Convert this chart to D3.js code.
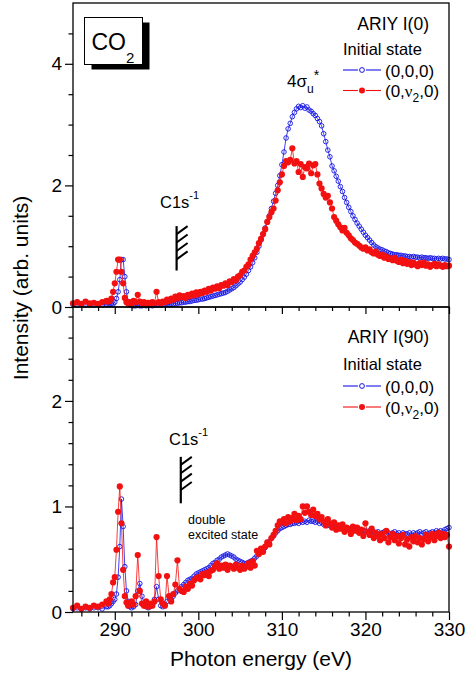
<!DOCTYPE html>
<html>
<head>
<meta charset="UTF-8">
<script src="https://d3js.org/d3.v7.min.js"></script>
<style>
  body { margin: 0; background: #fff; }
  text { font-family: Arial, "Liberation Sans", sans-serif; fill: #000; }
</style>
</head>
<body>
<svg id="canvas"></svg>
<script>

// photon energy grid (eV), shared by all four series
const energy = [
  285, 285.5, 286, 286.5, 287, 287.5, 288, 288.5, 289,
  289.2, 289.4, 289.6, 289.8, 290, 290.2, 290.4, 290.6, 290.8, 291, 291.2, 291.4, 291.6, 291.8,
  292, 292.25, 292.5, 292.75, 293, 293.25, 293.5, 293.75,
  294, 294.25, 294.5, 294.75, 295, 295.25, 295.5, 295.75,
  296, 296.25, 296.5, 296.75, 297, 297.25, 297.5, 297.75,
  298, 298.25, 298.5, 298.75, 299, 299.25, 299.5, 299.75,
  300, 300.25, 300.5, 300.75, 301, 301.25, 301.5, 301.75,
  302, 302.25, 302.5, 302.75, 303, 303.25, 303.5, 303.75,
  304, 304.25, 304.5, 304.75, 305, 305.25, 305.5, 305.75,
  306, 306.25, 306.5, 306.75, 307, 307.25, 307.5, 307.75,
  308, 308.25, 308.5, 308.75, 309, 309.25, 309.5, 309.75,
  310, 310.25, 310.5, 310.75, 311, 311.25, 311.5, 311.75,
  312, 312.25, 312.5, 312.75, 313, 313.25, 313.5, 313.75,
  314, 314.25, 314.5, 314.75, 315, 315.25, 315.5, 315.75,
  316, 316.25, 316.5, 316.75, 317, 317.25, 317.5, 317.75,
  318, 318.25, 318.5, 318.75, 319, 319.25, 319.5, 319.75,
  320, 320.25, 320.5, 320.75, 321, 321.25, 321.5, 321.75,
  322, 322.25, 322.5, 322.75, 323, 323.25, 323.5, 323.75,
  324, 324.25, 324.5, 324.75, 325, 325.25, 325.5, 325.75,
  326, 326.25, 326.5, 326.75, 327, 327.25, 327.5, 327.75,
  328, 328.25, 328.5, 328.75, 329, 329.25, 329.5, 329.75,
  330
];

// ARIY I(0), initial state (0,0,0)
const top000 = [
  0.04, 0.03, 0.04, 0.03, 0.04, 0.03, 0.04, 0.03, 0.04,
  0.04, 0.04, 0.05, 0.05, 0.08, 0.14, 0.25, 0.45, 0.78, 0.78, 0.50, 0.25, 0.09, 0.04,
  0.03, 0.02, 0.02, 0.03, 0.02, 0.02, 0.03, 0.02,
  0.03, 0.03, 0.02, 0.03, 0.03, 0.04, 0.03, 0.04,
  0.04, 0.05, 0.04, 0.05, 0.05, 0.06, 0.06, 0.07,
  0.07, 0.08, 0.08, 0.09, 0.09, 0.10, 0.11, 0.11,
  0.12, 0.13, 0.13, 0.14, 0.15, 0.16, 0.17, 0.18,
  0.19, 0.20, 0.21, 0.22, 0.23, 0.24, 0.26, 0.28,
  0.30, 0.32, 0.35, 0.38, 0.41, 0.45, 0.49, 0.54,
  0.60, 0.66, 0.73, 0.81, 0.90, 1.00, 1.10, 1.20,
  1.30, 1.40, 1.50, 1.62, 1.74, 1.87, 2.00, 2.16,
  2.34, 2.55, 2.78, 2.93, 3.02, 3.13, 3.20, 3.26,
  3.30, 3.28, 3.31, 3.27, 3.29, 3.24, 3.22, 3.18,
  3.15, 3.10, 3.05, 2.98, 2.85, 2.72, 2.58, 2.47,
  2.32, 2.24, 2.15, 2.07, 1.98, 1.90, 1.80, 1.72,
  1.64, 1.57, 1.50, 1.44, 1.38, 1.33, 1.28, 1.23,
  1.18, 1.14, 1.10, 1.06, 1.02, 0.99, 0.97, 0.95,
  0.94, 0.92, 0.91, 0.89, 0.88, 0.87, 0.86, 0.86,
  0.85, 0.85, 0.84, 0.84, 0.83, 0.83, 0.82, 0.83,
  0.82, 0.82, 0.81, 0.82, 0.81, 0.81, 0.80, 0.81,
  0.80, 0.80, 0.79, 0.80, 0.79, 0.80, 0.79, 0.79,
  0.78
];

// ARIY I(0), initial state (0,v2,0)
const top0v0 = [
  0.06, 0.08, 0.05, 0.09, 0.06, 0.07, 0.05, 0.08, 0.10,
  0.09, 0.10, 0.14, 0.25, 0.39, 0.58, 0.78, 0.78, 0.58, 0.39, 0.15, 0.08, 0.06, 0.08,
  0.06, 0.10, 0.08, 0.20, 0.09, 0.06, 0.08, 0.05,
  0.07, 0.05, 0.08, 0.06, 0.25, 0.08, 0.06, 0.09,
  0.08, 0.12, 0.10, 0.14, 0.12, 0.17, 0.14, 0.19,
  0.16, 0.18, 0.15, 0.20, 0.18, 0.22, 0.19, 0.24,
  0.21, 0.25, 0.23, 0.27, 0.25, 0.30, 0.27, 0.32,
  0.30, 0.34, 0.31, 0.36, 0.35, 0.39, 0.36, 0.42,
  0.41, 0.46, 0.44, 0.50, 0.52, 0.58, 0.60, 0.66,
  0.70, 0.78, 0.84, 0.90, 0.96, 1.05, 1.12, 1.20,
  1.28, 1.40, 1.48, 1.56, 1.62, 1.75, 1.92, 2.05,
  2.18, 2.32, 2.40, 2.38, 2.42, 2.61, 2.36, 2.40,
  2.22, 2.35, 2.14, 2.30, 2.28, 2.36, 2.20, 2.33,
  2.35, 2.18, 2.03, 1.95, 1.86, 1.80, 1.83, 1.72,
  1.62, 1.48, 1.42, 1.36, 1.31, 1.26, 1.30, 1.22,
  1.18, 1.13, 1.10, 1.06, 1.04, 1.01, 0.98, 0.96,
  0.98, 0.93, 0.95, 0.90, 0.88, 0.91, 0.86, 0.84,
  0.86, 0.81, 0.83, 0.79, 0.80, 0.77, 0.81, 0.76,
  0.74, 0.78, 0.72, 0.76, 0.71, 0.74, 0.69, 0.73,
  0.70, 0.67, 0.72, 0.69, 0.73, 0.68, 0.70, 0.66,
  0.69, 0.71, 0.67, 0.70, 0.68, 0.66, 0.69, 0.67,
  0.68
];

// ARIY I(90), initial state (0,0,0)
const bot000 = [
  0.03, 0.04, 0.03, 0.04, 0.03, 0.04, 0.04, 0.03, 0.05,
  0.05, 0.06, 0.08, 0.10, 0.12, 0.17, 0.33, 0.62, 1.07, 0.81, 0.43, 0.20, 0.10, 0.05,
  0.04, 0.05, 0.07, 0.20, 0.27, 0.15, 0.08, 0.05,
  0.04, 0.05, 0.07, 0.12, 0.24, 0.12, 0.06, 0.05,
  0.06, 0.10, 0.15, 0.12, 0.15, 0.18, 0.20, 0.22,
  0.24, 0.26, 0.28, 0.30, 0.31, 0.32, 0.34, 0.36,
  0.37, 0.38, 0.39, 0.40, 0.41, 0.42, 0.44, 0.46,
  0.47, 0.49, 0.50, 0.52, 0.53, 0.54, 0.55, 0.54,
  0.53, 0.52, 0.50, 0.49, 0.48, 0.47, 0.46, 0.46,
  0.47, 0.48, 0.49, 0.51, 0.53, 0.55, 0.57, 0.59,
  0.61, 0.64, 0.67, 0.70, 0.72, 0.75, 0.77, 0.79,
  0.80, 0.81, 0.82, 0.83, 0.83, 0.84, 0.84, 0.85,
  0.84, 0.86, 0.85, 0.86, 0.85, 0.87, 0.86, 0.86,
  0.85, 0.86, 0.84, 0.85, 0.83, 0.84, 0.82, 0.83,
  0.82, 0.81, 0.82, 0.80, 0.81, 0.80, 0.79, 0.80,
  0.79, 0.78, 0.79, 0.78, 0.77, 0.78, 0.76, 0.77,
  0.77, 0.76, 0.77, 0.75, 0.76, 0.75, 0.76, 0.74,
  0.75, 0.76, 0.74, 0.75, 0.74, 0.75, 0.76, 0.74,
  0.75, 0.73, 0.75, 0.74, 0.74, 0.75, 0.73, 0.75,
  0.74, 0.75, 0.76, 0.74, 0.75, 0.76, 0.74, 0.75,
  0.76, 0.75, 0.77, 0.76, 0.77, 0.76, 0.78, 0.79,
  0.80
];

// ARIY I(90), initial state (0,v2,0)
const bot0v0 = [
  0.04, 0.06, 0.03, 0.05, 0.04, 0.06, 0.05, 0.07, 0.10,
  0.08, 0.12, 0.17, 0.28, 0.33, 0.59, 0.95, 1.19, 0.84, 0.40, 0.15, 0.09, 0.06, 0.08,
  0.10, 0.07, 0.15, 0.54, 0.20, 0.08, 0.06, 0.10,
  0.05, 0.08, 0.06, 0.10, 0.71, 0.34, 0.12, 0.08,
  0.06, 0.34, 0.15, 0.10, 0.17, 0.26, 0.49, 0.22,
  0.20, 0.19, 0.24, 0.22, 0.27, 0.25, 0.30, 0.32,
  0.33, 0.31, 0.36, 0.35, 0.37, 0.34, 0.39, 0.40,
  0.43, 0.46, 0.41, 0.44, 0.42, 0.45, 0.40, 0.44,
  0.43, 0.41, 0.45, 0.42, 0.40, 0.44, 0.41, 0.43,
  0.46, 0.42, 0.48, 0.44, 0.58, 0.55, 0.60, 0.57,
  0.62, 0.66, 0.64, 0.70, 0.73, 0.77, 0.82, 0.86,
  0.85, 0.88, 0.84, 0.90, 0.86, 0.89, 0.93, 0.87,
  0.91, 0.88, 1.00, 0.94, 1.00, 0.95, 0.92, 0.97,
  0.91, 0.93, 0.88, 0.90, 0.86, 0.82, 0.88, 0.84,
  0.80, 0.85, 0.78, 0.82, 0.79, 0.83, 0.76, 0.80,
  0.78, 0.74, 0.81, 0.77, 0.80, 0.75, 0.78, 0.72,
  0.84, 0.76, 0.73, 0.79, 0.70, 0.75, 0.72, 0.68,
  0.74, 0.70, 0.77, 0.66, 0.71, 0.74, 0.68, 0.72,
  0.65, 0.70, 0.73, 0.64, 0.69, 0.62, 0.71, 0.67,
  0.72, 0.66, 0.70, 0.64, 0.69, 0.73, 0.67, 0.71,
  0.74, 0.68, 0.72, 0.75, 0.70, 0.74, 0.71, 0.73,
  0.62
];

// axis ticks
const xMajor = [290, 300, 310, 320, 330];
const xMinor = [286, 288, 292, 294, 296, 298, 302, 304, 306, 308, 312, 314, 316, 318, 322, 324, 326, 328];
const topMajor = [0, 2, 4];
const topMinor = [0.5, 1, 1.5, 2.5, 3, 3.5, 4.5];
const botMajor = [0, 1, 2];
const botMinor = [0.2, 0.4, 0.6, 0.8, 1.2, 1.4, 1.6, 1.8, 2.2, 2.4, 2.6, 2.8];

// C1s^-1 threshold marker: [energy, lower intensity, upper intensity]
const edgeTop = [297.4, 0.6, 1.33];
const edgeBot = [297.9, 1.03, 1.47];

const blue = "#1414e6";
const red = "#f21010";

width = 472;
height = 677;

canvas = d3.select("#canvas")
    .attr("width", width)
    .attr("height", height);

x = d3.scaleLinear().domain([285, 330]).range([73, 449]);
yTop = d3.scaleLinear().domain([0, 5]).range([307, 3]);
yBot = d3.scaleLinear().domain([0, 2.89]).range([612, 307]);

function series(vals, y, color, filled) {
    const pts = energy.map((e, i) => [e, vals[i]]);
    const line = d3.line().x(d => x(d[0])).y(d => y(d[1]));
    canvas.append("path")
        .attr("d", line(pts))
        .attr("fill", "none")
        .attr("stroke", color)
        .attr("stroke-width", 0.8);
    canvas.append("g").selectAll("circle")
        .data(pts)
        .enter()
            .append("circle")
                .attr("cx", d => x(d[0]))
                .attr("cy", d => y(d[1]))
                .attr("r", filled ? 3.1 : 2.3)
                .attr("fill", filled ? color : "none")
                .attr("stroke", filled ? "none" : color)
                .attr("stroke-width", 0.9);
}

series(top000, yTop, blue, false);
series(top0v0, yTop, red, true);
series(bot000, yBot, blue, false);
series(bot0v0, yBot, red, true);

// frames
[[yTop, 3, 307], [yBot, 307, 612]].forEach(p => {
    canvas.append("rect")
        .attr("x", 73).attr("y", p[1])
        .attr("width", 376).attr("height", p[2] - p[1])
        .attr("fill", "none")
        .attr("stroke", "#000")
        .attr("stroke-width", 1.3);
});

function axis(gen, tr) {
    const g = canvas.append("g").attr("transform", tr).call(gen);
    g.select(".domain").remove();
    g.selectAll("line").attr("stroke", "#000").attr("stroke-width", 1.2);
    g.selectAll("text").style("font-size", "19px").attr("fill", "#000");
    return g;
}

axis(d3.axisLeft(yTop).tickValues(topMajor).tickSize(8).tickPadding(3).tickFormat(d3.format("d")), "translate(73,0)");
axis(d3.axisLeft(yTop).tickValues(topMinor).tickSize(4.5).tickFormat(""), "translate(73,0)");
axis(d3.axisLeft(yBot).tickValues(botMajor).tickSize(8).tickPadding(3).tickFormat(d3.format("d")), "translate(73,0)");
axis(d3.axisLeft(yBot).tickValues(botMinor).tickSize(4.5).tickFormat(""), "translate(73,0)");
axis(d3.axisBottom(x).tickValues(xMajor).tickSize(8).tickPadding(3).tickFormat(d3.format("d")), "translate(0,612)");
axis(d3.axisBottom(x).tickValues(xMinor).tickSize(4.5).tickFormat(""), "translate(0,612)");
axis(d3.axisBottom(x).tickValues(xMajor).tickSize(7).tickFormat(""), "translate(0,307)");
axis(d3.axisBottom(x).tickValues(xMinor).tickSize(4).tickFormat(""), "translate(0,307)");

// axis titles
canvas.append("text")
    .attr("transform", "translate(28,288) rotate(-90)")
    .attr("text-anchor", "middle")
    .style("font-size", "21px")
    .text("Intensity (arb. units)");
canvas.append("text")
    .attr("x", 261).attr("y", 666)
    .attr("text-anchor", "middle")
    .style("font-size", "21px")
    .text("Photon energy (eV)");

// CO2 box with shadow
canvas.append("rect").attr("x", 91.5).attr("y", 22.5).attr("width", 58).attr("height", 47).attr("fill", "#000");
canvas.append("rect").attr("x", 84.5).attr("y", 17.5).attr("width", 58).attr("height", 47)
    .attr("fill", "#fff").attr("stroke", "#000").attr("stroke-width", 1);
co2 = canvas.append("text").attr("x", 91.5).attr("y", 50).style("font-size", "23px");
co2.append("tspan").text("CO");
co2.append("tspan").attr("dy", 13).style("font-size", "15px").text("2");

// legends
function legend(yTitle, yInit, yBlue, yRed, title) {
    canvas.append("text").attr("x", 429).attr("y", yTitle)
        .attr("text-anchor", "end").style("font-size", "17.5px").text(title);
    canvas.append("text").attr("x", 343).attr("y", yInit)
        .style("font-size", "16.5px").text("Initial state");
    [[yBlue, blue, false], [yRed, red, true]].forEach(r => {
        canvas.append("line").attr("x1", 343).attr("x2", 358).attr("y1", r[0]).attr("y2", r[0])
            .attr("stroke", r[1]).attr("stroke-width", 1.1);
        canvas.append("line").attr("x1", 366).attr("x2", 381).attr("y1", r[0]).attr("y2", r[0])
            .attr("stroke", r[1]).attr("stroke-width", 1.1);
        canvas.append("circle").attr("cx", 362).attr("cy", r[0]).attr("r", r[2] ? 3 : 2.4)
            .attr("fill", r[2] ? r[1] : "#fff").attr("stroke", r[2] ? "none" : r[1]).attr("stroke-width", 1);
    });
    canvas.append("text").attr("x", 385).attr("y", yBlue + 6.5)
        .style("font-size", "17px").text("(0,0,0)");
    const t = canvas.append("text").attr("x", 385).attr("y", yRed + 6.5).style("font-size", "17px");
    t.append("tspan").text("(0,");
    t.append("tspan").style("font-family", "'Liberation Serif', serif").text("ν");
    t.append("tspan").attr("dy", 5).style("font-size", "12px").text("2");
    t.append("tspan").attr("dy", -5).text(",0)");
}
legend(30, 55, 70, 90.5, "ARIY I(0)");
legend(343, 370, 386, 407, "ARIY I(90)");

// 4 sigma_u* label
s = canvas.append("text").attr("x", 287).attr("y", 86.5).style("font-size", "17px");
s.append("tspan").text("4σ");
s.append("tspan").attr("dy", 6).style("font-size", "12px").text("u");
s.append("tspan").attr("dy", -13).style("font-size", "14px").text("*");

// C1s^-1 labels and threshold markers
function c1s(px, py) {
    const t = canvas.append("text").attr("x", px).attr("y", py).style("font-size", "16.5px");
    t.append("tspan").text("C1s");
    t.append("tspan").attr("dy", -9).style("font-size", "11px").text("-1");
}
c1s(160, 208);
c1s(169, 445);

function edge(e, y) {
    const ex = x(e[0]), y0 = y(e[1]), y1 = y(e[2]);
    canvas.append("line").attr("x1", ex).attr("x2", ex).attr("y1", y0).attr("y2", y1)
        .attr("stroke", "#000").attr("stroke-width", 2.2);
    [0, 1, 2, 3].forEach(i => {
        const hy = y1 + 8 + i * 8.4;
        canvas.append("line").attr("x1", ex).attr("y1", hy).attr("x2", ex + 11).attr("y2", hy - 8)
            .attr("stroke", "#000").attr("stroke-width", 2);
    });
}
edge(edgeTop, yTop);
edge(edgeBot, yBot);

canvas.append("text").attr("x", 188).attr("y", 523.5).style("font-size", "12.5px").text("double");
canvas.append("text").attr("x", 188).attr("y", 539).style("font-size", "12.5px").text("excited state");

</script>
</body>
</html>
